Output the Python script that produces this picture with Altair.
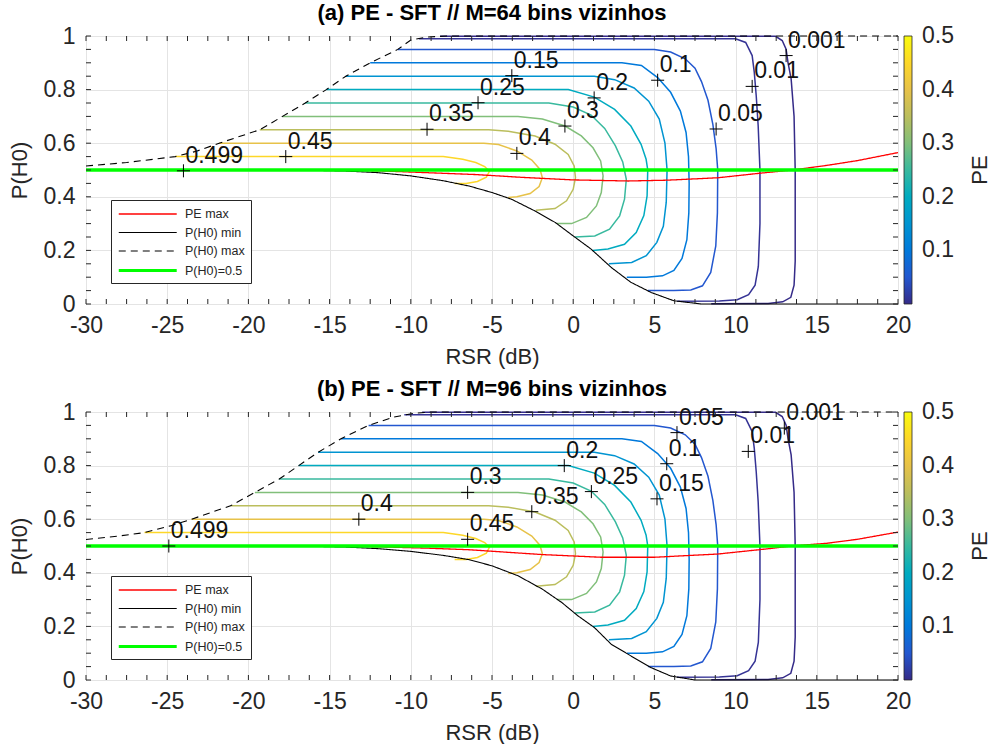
import altair as alt
import pandas as pd

FONT = "Liberation Sans"
W, H = 812, 268

# ---------------- data ----------------
LEVELS = [0.001, 0.01, 0.05, 0.1, 0.15, 0.2, 0.25, 0.3, 0.35, 0.4, 0.45, 0.499]
LEVEL_TEXT = ["0.001", "0.01", "0.05", "0.1", "0.15", "0.2", "0.25", "0.3", "0.35", "0.4", "0.45", "0.499"]

# contour path after leaving the P(H0) max curve (same shape in both panels)
SHAPE_X = {
    0.001: [12.46, 12.87, 13.11, 13.23, 13.42, 13.6, 13.67, 13.67, 13.6, 13.4, 12.9, 12.0, 8.5],
    0.01: [10.0, 10.62, 11.02, 11.15, 11.27, 11.39, 11.5, 11.5, 11.4, 11.2, 10.8, 10.1, 9.0, 6.4],
    0.05: [5.0, 6.0, 6.9, 7.5, 7.9, 8.3, 8.6, 8.8, 8.9, 8.88, 8.78, 8.47, 7.96, 7.24, 6.2, 4.6],
    0.1: [3.0, 4.2, 5.2, 6.0, 6.6, 6.95, 7.1, 7.14, 7.12, 7.0, 6.7, 6.2, 5.5, 4.5, 3.3],
    0.15: [1.3, 2.55, 3.75, 4.65, 5.3, 5.65, 5.78, 5.73, 5.55, 5.15, 4.5, 3.6, 2.2],
    0.2: [-0.3, 1.3, 2.55, 3.55, 4.18, 4.49, 4.59, 4.55, 4.35, 3.88, 3.16, 2.14, 1.2],
    0.25: [-1.5, 0.0, 1.1, 1.94, 2.6, 3.05, 3.27, 3.16, 2.86, 2.24, 1.33, 0.1],
    0.3: [-3.4, -1.9, -0.5, 0.5, 1.22, 1.69, 1.84, 1.73, 1.43, 0.82, -0.1, -1.0],
    0.35: [-5.2, -4.0, -2.35, -1.12, -0.31, 0.06, 0.14, 0.0, -0.41, -1.12, -2.3],
    0.4: [-5.5, -4.6, -3.47, -2.55, -2.04, -1.9, -2.1, -2.65, -3.47, -4.0],
    0.45: [-8.0, -6.8, -6.0, -5.45, -5.16, -5.35, -5.9, -6.6, -7.3],
    0.499: [-16.5],
}
SHAPE_Y = {
    0.001: [0.999, 0.983, 0.951, 0.9, 0.84, 0.7, 0.5, 0.16, 0.07, 0.025, 0.008, 0.002, 0.001],
    0.01: [0.99, 0.976, 0.927, 0.864, 0.777, 0.665, 0.5, 0.3, 0.14, 0.07, 0.035, 0.016, 0.011, 0.01],
    0.05: [0.95, 0.94, 0.915, 0.88, 0.83, 0.76, 0.67, 0.58, 0.5, 0.34, 0.217, 0.118, 0.068, 0.052, 0.05, 0.05],
    0.1: [0.9, 0.89, 0.845, 0.79, 0.72, 0.64, 0.55, 0.45, 0.34, 0.24, 0.17, 0.125, 0.105, 0.1, 0.1],
    0.15: [0.85, 0.837, 0.806, 0.757, 0.69, 0.6, 0.5, 0.38, 0.29, 0.23, 0.18, 0.155, 0.15],
    0.2: [0.8, 0.772, 0.726, 0.664, 0.596, 0.54, 0.5, 0.403, 0.33, 0.267, 0.223, 0.205, 0.2],
    0.25: [0.75, 0.735, 0.705, 0.655, 0.59, 0.53, 0.465, 0.391, 0.329, 0.279, 0.254, 0.25],
    0.3: [0.7, 0.69, 0.664, 0.627, 0.583, 0.534, 0.478, 0.416, 0.366, 0.323, 0.3, 0.3],
    0.35: [0.65, 0.645, 0.627, 0.596, 0.558, 0.515, 0.471, 0.428, 0.385, 0.356, 0.35],
    0.4: [0.6, 0.595, 0.571, 0.537, 0.502, 0.471, 0.438, 0.412, 0.4, 0.397],
    0.45: [0.55, 0.54, 0.528, 0.513, 0.495, 0.473, 0.457, 0.45, 0.45],
    0.499: [0.501],
}
# where each contour starts on the P(H0) max curve
START_A = {0.001: -8.2, 0.01: -9.5, 0.05: -10.8, 0.1: -12.5, 0.15: -14.0, 0.2: -15.2,
           0.25: -16.5, 0.3: -17.9, 0.35: -19.3, 0.4: -21.8, 0.45: -24.5, 0.499: -30.0}
START_B = {0.001: -9.3, 0.01: -10.4, 0.05: -12.6, 0.1: -14.3, 0.15: -15.7, 0.2: -16.9,
           0.25: -18.1, 0.3: -19.6, 0.35: -21.1, 0.4: -23.5, 0.45: -26.4, 0.499: -30.0}

# P(H0) max (dashed)
PMAX_A_X = [-30, -27.5, -24.5, -23.2, -21.8, -19.3, -17.9, -16.5, -15.2, -14.0, -12.5, -10.8, -10.0, -9.0, -7.8, 20]
PMAX_A_Y = [0.515, 0.528, 0.55, 0.57, 0.6, 0.65, 0.7, 0.75, 0.8, 0.85, 0.9, 0.95, 0.985, 0.996, 1.0, 1.0]
PMAX_B_X = [-30, -28, -26.4, -24.8, -23.5, -21.1, -19.6, -18.1, -16.9, -15.7, -14.3, -12.6, -11.05, -9.8, -8.8, 20]
PMAX_B_Y = [0.524, 0.537, 0.55, 0.575, 0.6, 0.65, 0.7, 0.75, 0.8, 0.85, 0.9, 0.95, 0.981, 0.995, 1.0, 1.0]
# P(H0) min (solid black)
PMIN_A_X = [-30, -17, -14, -12, -10, -8, -6.4, -5, -3.8, -2.35, -1.1, 0, 1.1, 2.35, 3.55, 4.8, 6.2, 7.9, 20]
PMIN_A_Y = [0.5, 0.5, 0.496, 0.49, 0.478, 0.46, 0.44, 0.416, 0.391, 0.347, 0.304, 0.254, 0.205, 0.136, 0.081, 0.043, 0.012, 0.0, 0.0]
PMIN_B_X = [-30, -17, -14, -12, -10, -8, -6.4, -5, -3.4, -1.9, -0.7, 0.3, 1.3, 2.35, 3.55, 4.8, 6.0, 7.5, 20]
PMIN_B_Y = [0.5, 0.5, 0.496, 0.49, 0.48, 0.465, 0.449, 0.426, 0.389, 0.339, 0.289, 0.239, 0.196, 0.133, 0.09, 0.046, 0.015, 0.0, 0.0]
# PE max (red)
PEMAX_A_X = [-30, -15, -12, -9, -6, -3, 0, 3.4, 5.8, 8.9, 11.5, 13.5, 15.6, 17.5, 20]
PEMAX_A_Y = [0.5, 0.499, 0.497, 0.49, 0.483, 0.472, 0.463, 0.459, 0.462, 0.471, 0.488, 0.5, 0.517, 0.535, 0.565]
PEMAX_B_X = [-30, -15, -12, -9, -6.4, -1.9, 1.7, 5.0, 8.9, 11.9, 13.6, 15.6, 17.5, 20]
PEMAX_B_Y = [0.5, 0.499, 0.497, 0.492, 0.486, 0.468, 0.458, 0.458, 0.47, 0.489, 0.501, 0.51, 0.525, 0.552]
# P(H0) = 0.5
HALF_X = [-30, 20]
HALF_Y = [0.5, 0.5]

# contour label anchors ("+" markers), in LEVELS order
LABEL_A_X = [13.11, 11.02, 8.8, 5.2, -3.78, 1.29, -5.86, -0.51, -9.0, -3.47, -17.7, -24.0]
LABEL_A_Y = [0.927, 0.812, 0.653, 0.835, 0.852, 0.769, 0.751, 0.664, 0.652, 0.562, 0.55, 0.497]
LABEL_B_X = [13.0, 10.78, 6.39, 5.76, 5.16, -0.55, 1.12, -6.5, -2.55, -13.2, -6.5, -24.9]
LABEL_B_Y = [0.94, 0.853, 0.923, 0.807, 0.676, 0.8, 0.703, 0.70, 0.628, 0.6, 0.525, 0.5]

LINE_NAMES = ["PE max", "P(H0) min", "P(H0) max", "P(H0)=0.5"]
LINE_COLORS = ["#ff0000", "#000000", "#000000", "#00ff00"]

X_LABELS = [-30, -25, -20, -15, -10, -5, 0, 5, 10, 15, 20]
Y_LABELS = [0, 0.2, 0.4, 0.6, 0.8, 1]
X_MINOR = [-30 + 1.25 * i for i in range(41)]
Y_MINOR = [0.05 * i for i in range(21)]
CBAR_TICKS = [0.1, 0.2, 0.3, 0.4]
CBAR_TOP = "0.5"

PARULA = ["#352a87", "#0363e1", "#1485d4", "#06a7c6", "#38b99e",
          "#92bf73", "#d9ba56", "#fcce2e", "#f9fb0e"]
PARULA_DOMAIN = [0.0, 0.0625, 0.125, 0.1875, 0.25, 0.3125, 0.375, 0.4375, 0.5]

TXT = "#262626"
TICK_FS = 23


def xenc(field="x"):
    return alt.X(f"{field}:Q", scale=alt.Scale(domain=[-30, 20], nice=False, zero=False),
                 axis=alt.Axis(values=X_LABELS, title="RSR (dB)", grid=True, gridColor="#e4e4e4",
                               gridWidth=1, tickSize=0, domain=False, labelExpr="datum.value + ''",
                               labelFontSize=TICK_FS, labelPadding=10, labelColor=TXT, labelFont=FONT,
                               titleFontSize=22, titleFont=FONT, titleColor=TXT,
                               titleFontWeight="normal", titlePadding=9, labelFlush=False))


def yenc(field="y"):
    return alt.Y(f"{field}:Q", scale=alt.Scale(domain=[0, 1], nice=False, zero=False),
                 axis=alt.Axis(values=Y_LABELS, title="P(H0)", grid=True, gridColor="#e4e4e4",
                               gridWidth=1, tickSize=0, domain=False, labelExpr="datum.value + ''",
                               labelFontSize=TICK_FS, labelPadding=11, labelColor=TXT, labelFont=FONT,
                               titleFontSize=22, titleFont=FONT, titleColor=TXT,
                               titleFontWeight="normal", titlePadding=12, labelFlush=False))


def panel(title, start, pmax, pmin, pemax, lab_x, lab_y):
    rows = []
    for lv in LEVELS:
        xs = [start[lv]] + SHAPE_X[lv]
        ys = [round(1 - lv, 3)] + SHAPE_Y[lv]
        for i, (a, b) in enumerate(zip(xs, ys)):
            rows.append({"x": a, "y": b, "PE": lv, "lev": str(lv), "i": i})
    cdf = pd.DataFrame(rows)

    srows = []
    for name, (lx, ly) in zip(LINE_NAMES, [pemax, pmin, pmax, (HALF_X, HALF_Y)]):
        for i, (a, b) in enumerate(zip(lx, ly)):
            srows.append({"x": a, "y": b, "name": name, "i": i})
    sdf = pd.DataFrame(srows)
    gdf = pd.DataFrame({"x": HALF_X, "y": HALF_Y})

    ldf = pd.DataFrame({"x": lab_x, "y": lab_y, "t": LEVEL_TEXT})

    contours = alt.Chart(cdf).mark_line(strokeWidth=1.5).encode(
        x=xenc(), y=yenc(),
        color=alt.Color("PE:Q",
                        scale=alt.Scale(domain=PARULA_DOMAIN, range=PARULA),
                        legend=alt.Legend(orient="none", legendX=W + 6, legendY=0,
                                          direction="vertical", title=None,
                                          gradientLength=H, gradientThickness=8,
                                          gradientStrokeColor=TXT, gradientStrokeWidth=0.8,
                                          values=CBAR_TICKS,
                                          labelFontSize=TICK_FS, labelFont=FONT, labelColor=TXT,
                                          labelOffset=10, labelOverlap=False, padding=0)),
        detail="lev:N", order="i:Q")

    special = alt.Chart(sdf).mark_line().encode(
        x=xenc(), y=yenc(),
        stroke=alt.Stroke("name:N", scale=alt.Scale(domain=LINE_NAMES, range=LINE_COLORS),
                          legend=alt.Legend(orient="none", legendX=25, legendY=164, title=None,
                                            symbolType="M -1 0 L 7 0", symbolSize=210,
                                            labelFontSize=12.5, labelFont=FONT, labelColor=TXT,
                                            fillColor="white", strokeColor=TXT, padding=6,
                                            rowPadding=3.5, labelOffset=50)),
        strokeDash=alt.StrokeDash("name:N", scale=alt.Scale(domain=LINE_NAMES,
                                  range=[[1, 0], [1, 0], [7, 5], [1, 0]])),
        strokeWidth=alt.StrokeWidth("name:N", scale=alt.Scale(type="ordinal", domain=LINE_NAMES,
                                    range=[1.3, 1.1, 1.1, 2.8])),
        detail="name:N", order="i:Q")

    green = alt.Chart(gdf).mark_line(color="#00ff00", strokeWidth=2.8).encode(x=xenc(), y=yenc())

    plus = alt.Chart(ldf).mark_point(shape="M -1 0 L 1 0 M 0 -1 L 0 1", size=170,
                                     filled=False, stroke="black", strokeWidth=1,
                                     opacity=1).encode(x=xenc(), y=yenc())
    text = alt.Chart(ldf).mark_text(align="left", baseline="middle", dx=2, dy=-15,
                                    fontSize=23, font=FONT, color="#111111").encode(
        x=xenc(), y=yenc(), text="t:N")

    xt = pd.DataFrame({"x": X_MINOR})
    yt = pd.DataFrame({"y": Y_MINOR})
    tick_style = dict(color=TXT, strokeWidth=1)
    ticks = [
        alt.Chart(xt).mark_rule(**tick_style).encode(x=xenc(), y=alt.value(0), y2=alt.value(5)),
        alt.Chart(xt).mark_rule(**tick_style).encode(x=xenc(), y=alt.value(H - 5), y2=alt.value(H)),
        alt.Chart(yt).mark_rule(**tick_style).encode(y=yenc(), x=alt.value(0), x2=alt.value(5)),
        alt.Chart(yt).mark_rule(**tick_style).encode(y=yenc(), x=alt.value(W - 5), x2=alt.value(W)),
    ]
    cbar_top = alt.Chart(pd.DataFrame({"t": [CBAR_TOP]})).mark_text(
        fontSize=TICK_FS, font=FONT, color=TXT, baseline="middle", align="left").encode(
        x=alt.value(W + 24), y=alt.value(0), text="t:N")
    pe = alt.Chart(pd.DataFrame({"t": ["PE"]})).mark_text(
        angle=270, fontSize=22, font=FONT, color=TXT, baseline="middle", align="center").encode(
        x=alt.value(W + 82), y=alt.value(H / 2), text="t:N")

    return alt.layer(contours, special, green, plus, text, *ticks, cbar_top, pe).properties(
        width=W, height=H,
        title=alt.TitleParams(title, fontSize=22, font=FONT, fontWeight="bold",
                              color="black", offset=0, anchor="middle"))


top = panel("(a) PE - SFT // M=64 bins vizinhos", START_A,
            (PMAX_A_X, PMAX_A_Y), (PMIN_A_X, PMIN_A_Y), (PEMAX_A_X, PEMAX_A_Y),
            LABEL_A_X, LABEL_A_Y)
bottom = panel("(b) PE - SFT // M=96 bins vizinhos", START_B,
               (PMAX_B_X, PMAX_B_Y), (PMIN_B_X, PMIN_B_Y), (PEMAX_B_X, PEMAX_B_Y),
               LABEL_B_X, LABEL_B_Y)

chart = alt.vconcat(top, bottom, spacing=9).resolve_scale(
    color="independent", stroke="independent", strokeDash="independent",
    strokeWidth="independent").resolve_legend(
    color="independent", stroke="independent", strokeDash="independent",
    strokeWidth="independent").properties(
    padding={"left": 7, "top": 1, "right": 0, "bottom": 0},
    background="white").configure_view(stroke=TXT, strokeWidth=1)

chart.save("out.html", embed_options={"renderer": "svg", "actions": False})
